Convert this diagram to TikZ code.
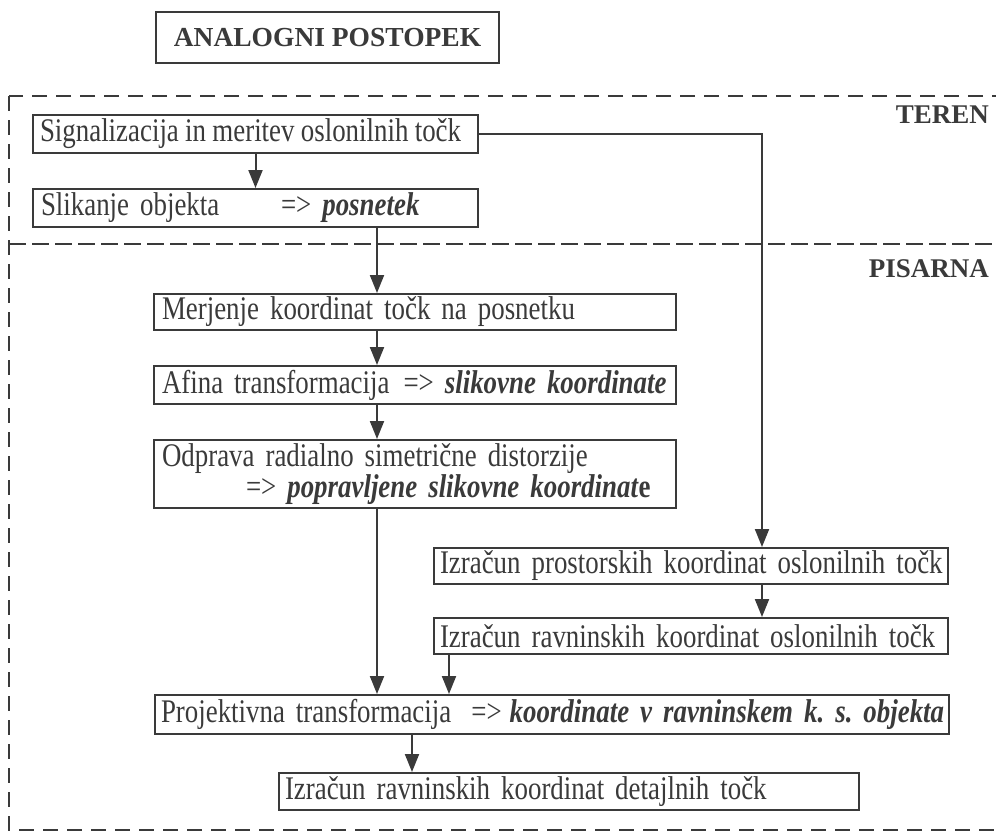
\documentclass[tikz,border=0pt]{standalone}
\usepackage{fontspec}
\setmainfont{Liberation Serif}[FakeStretch=0.815]
\newfontfamily\labelfont{Liberation Serif}
\usetikzlibrary{arrows.meta,positioning}
\definecolor{ink}{HTML}{3A3A3A}
\newcommand{\res}[1]{\textbf{\textit{#1}}}
\DeclareRobustCommand{\stepfont}{\fontsize{33}{31}\selectfont\frenchspacing
  \spaceskip=6.8pt\relax}
\tikzset{
  stepbox/.style={
    draw=ink,
    line width=2pt,
    rectangle,
    anchor=north west,
    inner xsep=4pt,
    inner ysep=0pt,
    align=left,
    text=ink,
    font=\stepfont,
  },
  flow/.style={draw=ink,line width=2pt,-{Triangle[length=18pt,width=14pt]}},
  zone/.style={draw=ink,line width=2.4pt,dash pattern=on 15pt off 9pt},
  zonelabel/.style={anchor=base east,inner sep=0pt,text=ink,
    font=\labelfont\fontsize{27}{30}\selectfont\bfseries},
}

\begin{document}
\begin{tikzpicture}[x=1pt,y=-1pt]
  \useasboundingbox (0,0) rectangle (996,831);

  % title and zones
  \node[draw=ink,line width=2.8pt,minimum width=343pt,minimum height=51pt,
    text=ink,font=\labelfont\fontsize{27.5}{30}\selectfont\bfseries]
    (title) at (327.5,37.5) {ANALOGNI POSTOPEK};
  \draw[zone] (9,96) rectangle (998,830);
  \draw[zone,dash pattern=on 17pt off 6pt] (9,244) -- (998,244);
  \node[zonelabel] (teren) at (989,123) {TEREN};
  \node[zonelabel] (pisarna) at (989,277) {PISARNA};

  % steps
  \node[stepbox,text width=437pt,minimum height=38pt] (sig) at (32,114)
    {\mbox{\spaceskip=6.3pt\hspace*{3pt}Signalizacija in meritev oslonilnih točk}};
  \node[stepbox,text width=437pt,minimum height=38pt] (slik) at (32,188)
    {\hspace*{4pt}\makebox[240pt][l]{Slikanje objekta}=> \res{posnetek}};
  \node[stepbox,text width=514pt,minimum height=36pt] (merj) at (153,293)
    {\hspace*{4pt}Merjenje koordinat točk na posnetku};
  \node[stepbox,text width=514pt,minimum height=38pt] (afina) at (153,365)
    {\hspace*{4pt}Afina transformacija\hspace{14pt}=> \res{slikovne koordinate}};
  \node[stepbox,text width=514pt,minimum height=68pt] (odpr) at (153,439)
    {\hspace*{4pt}Odprava radialno simetrične distorzije\\
     \hspace*{88pt}=> \res{popravljene slikovne koordinat}\textbf{e}};
  \node[stepbox,text width=506pt,minimum height=36pt] (prost) at (433,547)
    {\hspace*{2pt}Izračun prostorskih koordinat oslonilnih točk};
  \node[stepbox,text width=506pt,minimum height=36pt] (ravn) at (433,617)
    {\hspace*{2pt}Izračun ravninskih koordinat oslonilnih točk};
  \node[stepbox,text width=786pt,minimum height=39pt] (proj) at (154,694)
    {\hspace*{2pt}Projektivna transformacija\hspace{20pt}=>\hspace{8pt}\res{koordinate v ravninskem k. s. objekta}};
  \node[stepbox,text width=572pt,minimum height=37pt] (detaj) at (278,772)
    {\hspace*{2pt}Izračun ravninskih koordinat detajlnih točk};

  % connectors
  \coordinate (c1) at (377,0);
  \coordinate (c2) at (762,0);
  \coordinate (c3) at (449,0);
  \coordinate (c4) at (412,0);
  \draw[flow] (sig) -- (slik);
  \draw[flow] (slik.south -| c1) -- (merj.north -| c1);
  \draw[flow] (merj.south -| c1) -- (afina.north -| c1);
  \draw[flow] (afina.south -| c1) -- (odpr.north -| c1);
  \draw[flow] (odpr.south -| c1) -- (proj.north -| c1);
  \draw[flow] (sig.east) -| (c2 |- prost.north);
  \draw[flow] (prost.south -| c2) -- (ravn.north -| c2);
  \draw[flow] (ravn.south -| c3) -- (proj.north -| c3);
  \draw[flow] (proj.south -| c4) -- (detaj.north -| c4);
\end{tikzpicture}
\end{document}
